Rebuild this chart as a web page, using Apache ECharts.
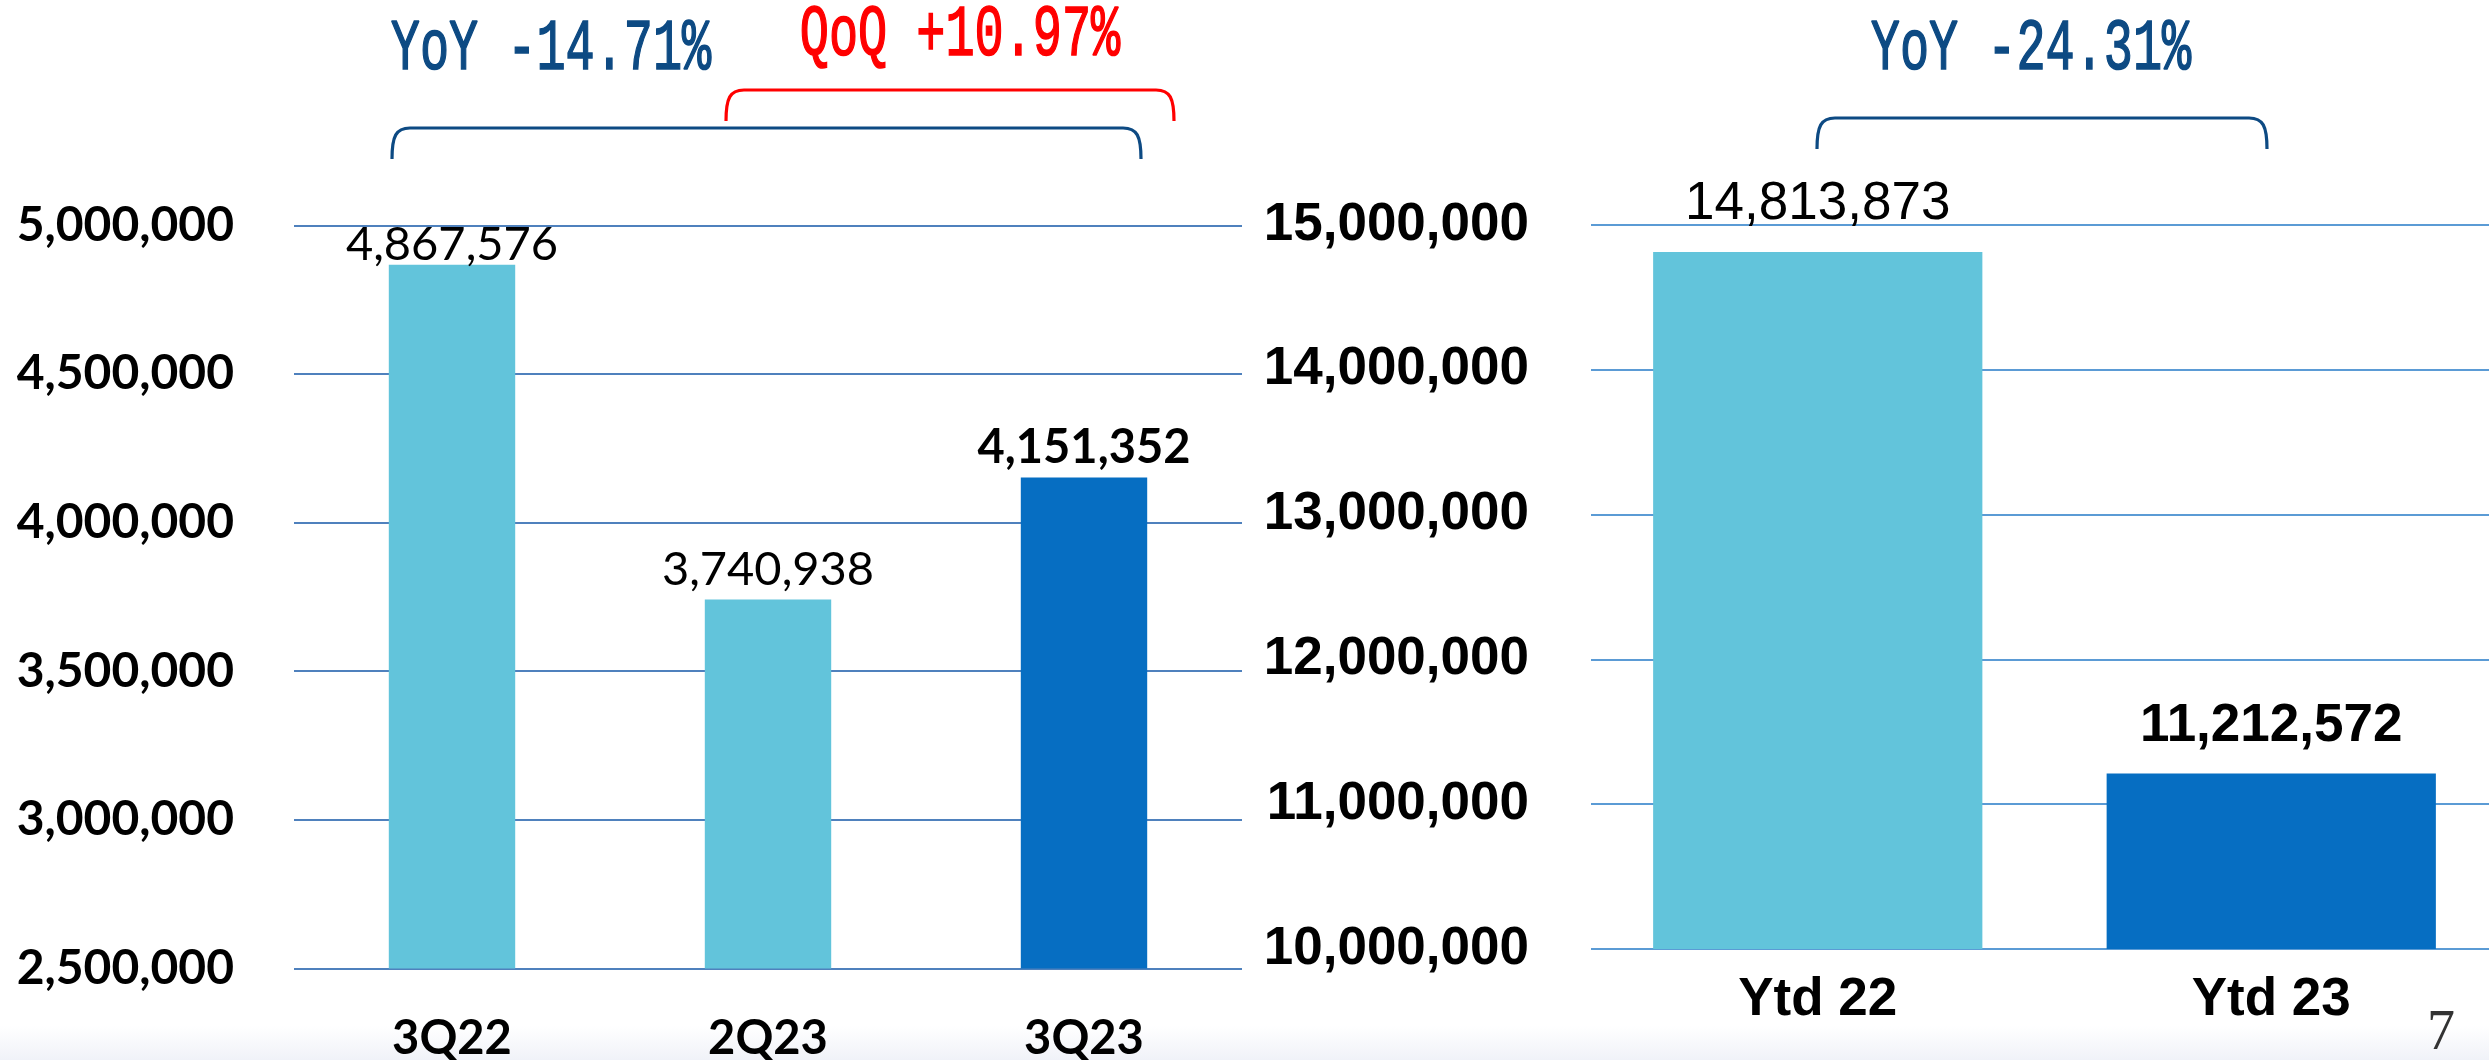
<!DOCTYPE html>
<html>
<head>
<meta charset="utf-8">
<title>Quarterly and YTD volume</title>
<script src="https://cdn.jsdelivr.net/npm/echarts@6/dist/echarts.min.js"></script>
<style>
  html, body { margin: 0; padding: 0; background: #fff; }
  #chart { width: 2489px; height: 1060px; }
</style>
</head>
<body>
<div id="chart"></div>
<script>
// quarter chart (left)
const quarterCats = ['3Q22', '2Q23', '3Q23']
const quarterValues = [4867576, 3740938, 4151352]
const quarterAxisRange = [2500000, 5000000]
const quarterAxisStep = 500000

// year to date chart (right)
const ytdCats = ['Ytd 22', 'Ytd 23']
const ytdValues = [14813873, 11212572]
const ytdAxisRange = [10000000, 15000000]
const ytdAxisStep = 1000000

const lightBar = '#62c4db'
const darkBar = '#066ec2'
const navy = '#0d4a83'

const fmt = v => Number(v).toLocaleString('en-US')
const pct = (a, b) => {
  const p = (a / b - 1) * 100
  return (p >= 0 ? '+' : '') + p.toFixed(2) + '%'
}

// change labels, taken from the data
const yoyQuarter = 'YoY ' + pct(quarterValues[2], quarterValues[0])
const qoqQuarter = 'QoQ ' + pct(quarterValues[2], quarterValues[1])
const yoyYtd = 'YoY ' + pct(ytdValues[1], ytdValues[0])

// bracket over bars: two curved ends + top line
function bracket(x1, x2, yTop, yBottom, color) {
  const r = 18
  const st = { stroke: color, lineWidth: 3.2, fill: null }
  return {
    type: 'group',
    children: [
      { type: 'bezierCurve', shape: { x1: x1, y1: yBottom, cpx1: x1, cpy1: yTop + 8, cpx2: x1 + 4, cpy2: yTop, x2: x1 + r, y2: yTop }, style: st },
      { type: 'line', shape: { x1: x1 + r, y1: yTop, x2: x2 - r, y2: yTop }, style: st },
      { type: 'bezierCurve', shape: { x1: x2 - r, y1: yTop, cpx1: x2 - 4, cpy1: yTop, cpx2: x2, cpy2: yTop + 8, x2: x2, y2: yBottom }, style: st }
    ]
  }
}

function tallText(str, cx, cy, color) {
  return {
    type: 'text',
    x: cx,
    y: cy,
    scaleX: 0.665,
    style: {
      text: str,
      fill: color,
      stroke: color,
      lineWidth: 1.6,
      font: '73px "Liberation Mono"',
      textAlign: 'center',
      textVerticalAlign: 'middle'
    }
  }
}

const chart = echarts.init(document.getElementById('chart'), null, { renderer: 'canvas' })

const leftFont = 'Lato'
const rightFont = 'Liberation Sans'

chart.setOption({
  animation: false,
  backgroundColor: '#ffffff',
  grid: [
    { left: 294, top: 225.4, width: 948, height: 743, outerBoundsMode: 'none' },
    { left: 1591, top: 225, width: 907, height: 724, outerBoundsMode: 'none' }
  ],
  xAxis: [{
    type: 'category',
    gridIndex: 0,
    data: quarterCats,
    axisLine: { show: false },
    axisTick: { show: false },
    axisLabel: { margin: 47, color: '#000', fontFamily: leftFont, fontWeight: 'bold', fontSize: 47 }
  }, {
    type: 'category',
    gridIndex: 1,
    data: ytdCats,
    axisLine: { show: false },
    axisTick: { show: false },
    axisLabel: { margin: 25, color: '#000', fontFamily: rightFont, fontWeight: 'bold', fontSize: 53 }
  }],
  yAxis: [{
    type: 'value',
    gridIndex: 0,
    min: quarterAxisRange[0],
    max: quarterAxisRange[1],
    interval: quarterAxisStep,
    axisLine: { show: false },
    axisTick: { show: false },
    splitLine: { lineStyle: { color: '#4f81bd', width: 2 } },
    axisLabel: { margin: 60, color: '#000', fontFamily: leftFont, fontWeight: 'bold', fontSize: 48, formatter: fmt }
  }, {
    type: 'value',
    gridIndex: 1,
    min: ytdAxisRange[0],
    max: ytdAxisRange[1],
    interval: ytdAxisStep,
    axisLine: { show: false },
    axisTick: { show: false },
    splitLine: { lineStyle: { color: '#5b9bd5', width: 2 } },
    axisLabel: { margin: 62, color: '#000', fontFamily: rightFont, fontWeight: 'bold', fontSize: 53, formatter: fmt }
  }],
  series: [{
    name: 'quarter',
    type: 'bar',
    xAxisIndex: 0,
    yAxisIndex: 0,
    barWidth: '40%',
    data: quarterValues.map((v, i) => ({
      value: v,
      itemStyle: { color: i === quarterValues.length - 1 ? darkBar : lightBar },
      label: i === 0 ? { distance: -4 } : (i === quarterValues.length - 1 ? { fontWeight: 'bold' } : {})
    })),
    label: {
      show: true,
      position: 'top',
      distance: 6,
      color: '#000',
      fontFamily: leftFont,
      fontSize: 47,
      formatter: p => fmt(p.value)
    }
  }, {
    name: 'ytd',
    type: 'bar',
    xAxisIndex: 1,
    yAxisIndex: 1,
    barWidth: '72.6%',
    data: ytdValues.map((v, i) => ({
      value: v,
      itemStyle: { color: i === ytdValues.length - 1 ? darkBar : lightBar },
      label: i === ytdValues.length - 1 ? { fontWeight: 'bold' } : {}
    })),
    label: {
      show: true,
      position: 'top',
      distance: 21,
      color: '#000',
      fontFamily: rightFont,
      fontSize: 53,
      formatter: p => fmt(p.value)
    }
  }],
  graphic: [
    {
      type: 'rect',
      z: -1,
      shape: { x: 0, y: 1026, width: 2489, height: 34 },
      style: {
        fill: new echarts.graphic.LinearGradient(0, 0, 0, 1, [
          { offset: 0, color: 'rgba(255,255,255,1)' },
          { offset: 1, color: '#f0f2f8' }
        ])
      }
    },
    tallText(yoyQuarter, 551, 50, navy),
    tallText(qoqQuarter, 960, 36, '#ff0000'),
    tallText(yoyYtd, 2031, 50, navy),
    bracket(392, 1141, 128, 159, navy),
    bracket(726, 1174, 90, 121, '#ff0000'),
    bracket(1817, 2267, 118, 149, navy),
    {
      type: 'text',
      x: 2441,
      y: 1034,
      style: {
        text: '7',
        fill: '#333',
        font: '56px "Liberation Serif"',
        textAlign: 'center',
        textVerticalAlign: 'middle'
      }
    }
  ]
})
</script>
</body>
</html>
